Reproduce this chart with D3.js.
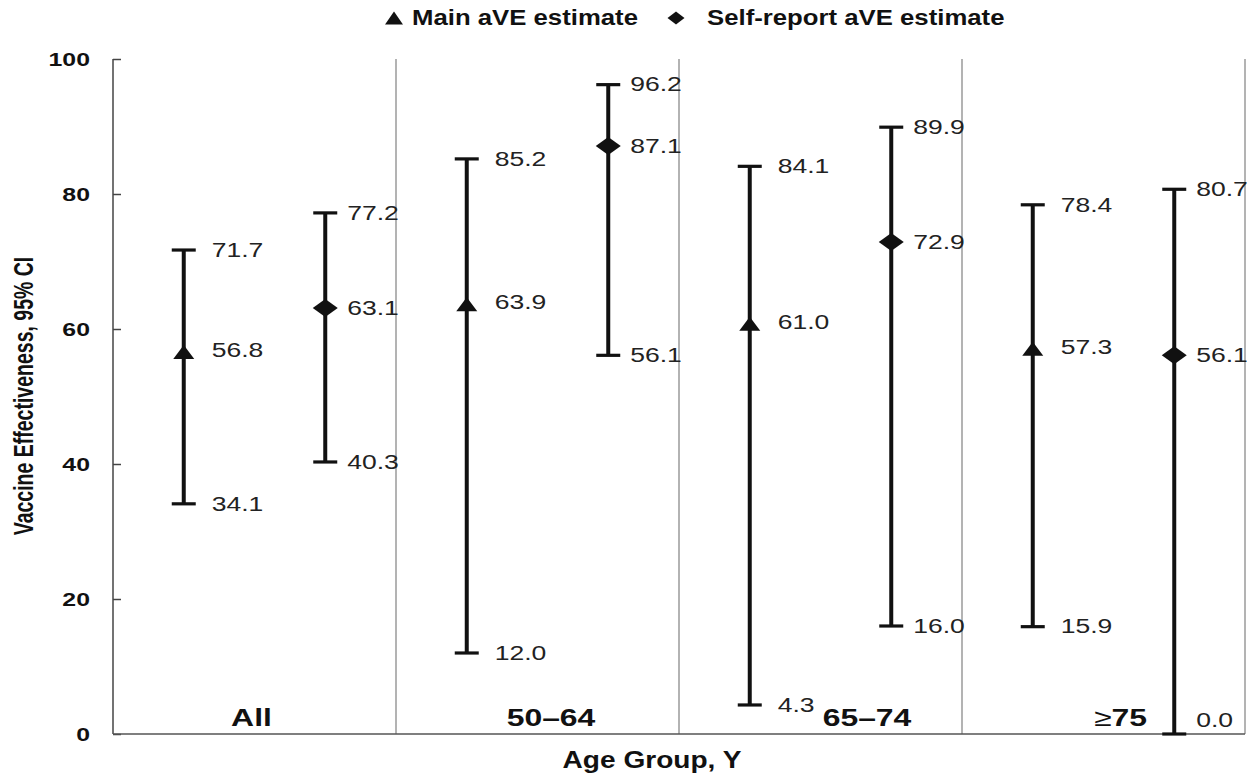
<!DOCTYPE html>
<html>
<head>
<meta charset="utf-8">
<script src="https://cdn.jsdelivr.net/npm/d3@7"></script>
<style>
  html, body { margin: 0; padding: 0; background: #fff; }
  svg { display: block; }
  text { font-family: "Liberation Sans", Arial, Helvetica, sans-serif; }
</style>
</head>
<body>
<svg id="chart" width="1247" height="773"></svg>
<script>
// ---------------- data ----------------
const groups = ["All", "50–64", "65–74", "≥75"];
const seriesNames = ["Main aVE estimate", "Self-report aVE estimate"];
const mainEst  = [56.8, 63.9, 61.0, 57.3];
const mainLow  = [34.1, 12.0, 4.3, 15.9];
const mainHigh = [71.7, 85.2, 84.1, 78.4];
const selfEst  = [63.1, 87.1, 72.9, 56.1];
const selfLow  = [40.3, 56.1, 16.0, 0.0];
const selfHigh = [77.2, 96.2, 89.9, 80.7];
const yTicks = [0, 20, 40, 60, 80, 100];
const yTitle = "Vaccine Effectiveness, 95% CI";
const xTitle = "Age Group, Y";

// ---------------- layout ----------------
const W = 1247, H = 773;
const plot = { left: 113, right: 1245, top: 59, bottom: 734 };
const groupLabelDx = [-3, 13.5, 46.5, 17];   // label shift from band centre
const FONT = '"Liberation Sans", Arial, Helvetica, sans-serif';

const svg = d3.select("#chart");

const y = d3.scaleLinear().domain([0, 100]).range([plot.bottom, plot.top]);
const x = d3.scaleBand().domain(groups).range([plot.left, plot.right]).padding(0);
const xs = d3.scalePoint().domain(["main", "self"]).range([0, x.bandwidth()]).padding(0.5);

// rows
const rows = [];
groups.forEach((g, i) => {
  rows.push({ g, s: "main", est: mainEst[i], lo: mainLow[i], hi: mainHigh[i] });
  rows.push({ g, s: "self", est: selfEst[i], lo: selfLow[i], hi: selfHigh[i] });
});
const cx = d => x(d.g) + xs(d.s);

// separators between groups + right border
svg.append("g").selectAll("line")
  .data(groups.slice(1).concat(["__end"]))
  .join("line")
  .attr("x1", d => d === "__end" ? plot.right : x(d))
  .attr("x2", d => d === "__end" ? plot.right : x(d))
  .attr("y1", plot.top).attr("y2", plot.bottom)
  .attr("stroke", "#9a9a9a").attr("stroke-width", 1.5);

// y axis
const yAxis = d3.axisLeft(y).tickValues(yTicks).tickSize(-8).tickPadding(0).tickFormat(d3.format("d"));
const ya = svg.append("g").attr("transform", `translate(${plot.left},0)`).call(yAxis);
ya.select(".domain").attr("stroke", "#444").attr("stroke-width", 1.5).attr("d", `M0,${plot.top}V${plot.bottom}`);
ya.selectAll(".tick line").attr("stroke", "#444").attr("stroke-width", 1.5);
ya.selectAll(".tick text").remove();
ya.selectAll(".tick").append("text")
  .attr("transform", "translate(-23,0) scale(1.38,1)")
  .attr("text-anchor", "end").attr("dominant-baseline", "central")
  .attr("fill", "#111").attr("font-size", 18).attr("font-weight", "bold")
  .style("font-family", FONT)
  .text(d => d);

// x axis baseline
svg.append("line")
  .attr("x1", plot.left).attr("x2", plot.right)
  .attr("y1", plot.bottom).attr("y2", plot.bottom)
  .attr("stroke", "#555").attr("stroke-width", 1.5);

// error bars
const bars = svg.append("g");
bars.selectAll("line.v").data(rows).join("line").attr("class", "v")
  .attr("x1", cx).attr("x2", cx)
  .attr("y1", d => y(d.lo)).attr("y2", d => y(d.hi))
  .attr("stroke", "#111").attr("stroke-width", 4);
const caps = rows.flatMap(d => [{ d, v: d.lo }, { d, v: d.hi }]);
bars.selectAll("line.c").data(caps).join("line").attr("class", "c")
  .attr("x1", c => cx(c.d) - 12).attr("x2", c => cx(c.d) + 12)
  .attr("y1", c => y(c.v)).attr("y2", c => y(c.v))
  .attr("stroke", "#111").attr("stroke-width", 3.2);

// markers
function triPath(w, h) { return `M0,${-h / 2}L${w / 2},${h / 2}L${-w / 2},${h / 2}Z`; }
function diaPath(w, h) { return `M0,${-h / 2}L${w / 2},0L0,${h / 2}L${-w / 2},0Z`; }
bars.selectAll("path.m").data(rows).join("path").attr("class", "m")
  .attr("d", d => d.s === "main" ? triPath(21, 14) : diaPath(25, 18))
  .attr("transform", d => `translate(${cx(d)},${y(d.est) + (d.s === "main" ? 1.5 : 0)})`)
  .attr("fill", "#111");

// value labels (kept above the baseline)
const labels = rows.flatMap(d => [
  { d, v: d.hi }, { d, v: d.est }, { d, v: d.lo }
]);
svg.append("g").selectAll("text").data(labels).join("text")
  .attr("transform", l => `translate(${cx(l.d) + (l.d.s === "main" ? 28 : 22)},${Math.min(y(l.v), plot.bottom - 14)}) scale(1.36,1)`)
  .attr("dominant-baseline", "central")
  .attr("font-size", 19.5).attr("fill", "#222")
  .style("font-family", FONT)
  .text(l => d3.format(".1f")(l.v));

// group labels
const gl = svg.append("g").selectAll("text").data(groups).join("text")
  .attr("transform", (g, i) => `translate(${x(g) + x.bandwidth() / 2 + groupLabelDx[i]},726) scale(1.33,1)`)
  .attr("text-anchor", "middle")
  .attr("font-size", 24).attr("font-weight", "bold").attr("fill", "#111")
  .style("font-family", FONT);
gl.each(function (g) {
  const t = d3.select(this);
  if (g.startsWith("≥")) {
    t.append("tspan").attr("font-weight", "normal").text("≥");
    t.append("tspan").text(g.slice(1));
  } else {
    t.text(g);
  }
});

// axis titles
svg.append("text")
  .attr("transform", `translate(652,768) scale(1.17,1)`)
  .attr("text-anchor", "middle")
  .attr("font-size", 24).attr("font-weight", "bold").attr("fill", "#111")
  .style("font-family", FONT)
  .text(xTitle);

svg.append("text")
  .attr("transform", `translate(33,396) scale(1.4,1) rotate(-90)`)
  .attr("text-anchor", "middle")
  .attr("font-size", 19.5).attr("font-weight", "bold").attr("fill", "#111")
  .style("font-family", FONT)
  .text(yTitle);

// legend
const legend = svg.append("g");
const legItems = [
  { name: seriesNames[0], shape: triPath(18, 13), mx: 394, tx: 412 },
  { name: seriesNames[1], shape: diaPath(17, 13), mx: 676, tx: 707 }
];
legItems.forEach(it => {
  legend.append("path").attr("d", it.shape)
    .attr("transform", `translate(${it.mx},18)`).attr("fill", "#111");
  legend.append("text")
    .attr("transform", `translate(${it.tx},25) scale(1.17,1)`)
    .attr("font-size", 22).attr("font-weight", "bold").attr("fill", "#111")
    .style("font-family", FONT)
    .text(it.name);
});
</script>
</body>
</html>
